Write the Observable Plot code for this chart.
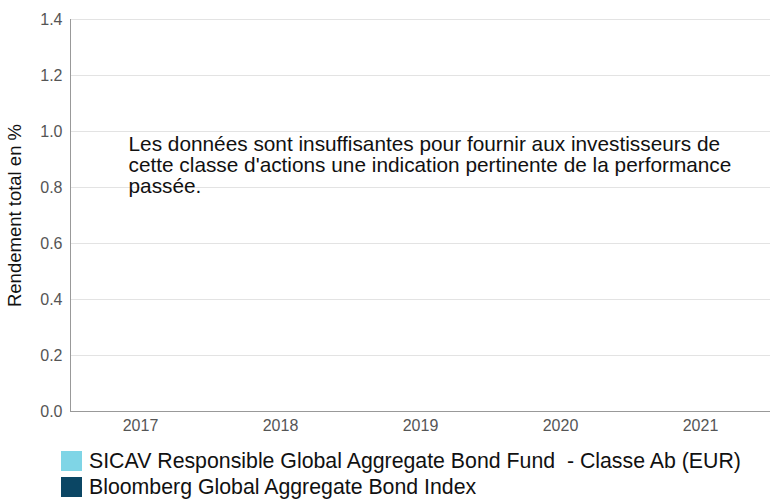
<!DOCTYPE html>
<html>
<head>
<meta charset="utf-8">
<script src="https://cdn.jsdelivr.net/npm/d3@7"></script>
<script src="https://cdn.jsdelivr.net/npm/@observablehq/plot@0.6"></script>
<style>
  body { margin: 0; background: #fff; font-family: "Liberation Sans", Arial, sans-serif; }
  #chart svg { display: block; }
  .legend { margin-left: 61px; margin-top: 8px; }
  .legend .item { display: flex; align-items: center; height: 26px; font-size: 21.3px; color: #111; }
  .legend .sw { width: 21px; height: 20px; margin-right: 7px; flex: none; }
</style>
</head>
<body>
<div id="chart"></div>
<div class="legend" id="legend"></div>
<script>
const years = ["2017", "2018", "2019", "2020", "2021"];
const yTicks = [0, 0.2, 0.4, 0.6, 0.8, 1.0, 1.2, 1.4];
const seriesNames = ["SICAV Responsible Global Aggregate Bond Fund  - Classe Ab (EUR)", "Bloomberg Global Aggregate Bond Index"];
const seriesColors = ["#7fd5e6", "#0b4664"];
const fundValues = [null, null, null, null, null];
const indexValues = [null, null, null, null, null];
const yLabel = "Rendement total en %";
const message = "Les données sont insuffisantes pour fournir aux investisseurs de\ncette classe d'actions une indication pertinente de la performance\npassée.";

const chart = Plot.plot({
  width: 773,
  height: 440,
  marginLeft: 70,
  marginRight: 3,
  marginTop: 19,
  marginBottom: 29,
  style: { fontFamily: "Liberation Sans, Arial, sans-serif", fontSize: "16px", color: "#555", background: "#fff" },
  x: { type: "band", domain: years, paddingInner: 0.3, paddingOuter: 0.15, label: null, tickSize: 0, tickPadding: 8 },
  y: { domain: [0, 1.4], ticks: yTicks, tickFormat: d3.format(".1f"), label: null, tickSize: 0, tickPadding: 8 },
  marks: [
    Plot.gridY(yTicks, { stroke: "#e3e3e3", strokeOpacity: 1 }),
    Plot.ruleY([0], { stroke: "#999" }),
    Plot.frame({ anchor: "left", stroke: "#999" }),
    Plot.text([message], {
      frameAnchor: "top-left", dx: 58, dy: 116, text: d => d,
      textAnchor: "start", lineAnchor: "top", lineHeight: 1.02,
      fontSize: 20.8, fill: "#111"
    }),
    Plot.text([yLabel], {
      frameAnchor: "left", dx: -55, text: d => d, rotate: -90,
      textAnchor: "middle", fontSize: 18.5, fill: "#111"
    })
  ]
});
document.getElementById("chart").append(chart);

const legend = document.getElementById("legend");
seriesNames.forEach((n, i) => {
  const item = document.createElement("div");
  item.className = "item";
  const sw = document.createElement("span");
  sw.className = "sw";
  sw.style.background = seriesColors[i];
  const t = document.createElement("span");
  t.textContent = n;
  t.style.whiteSpace = "pre";
  item.append(sw, t);
  legend.append(item);
});
</script>
</body>
</html>
